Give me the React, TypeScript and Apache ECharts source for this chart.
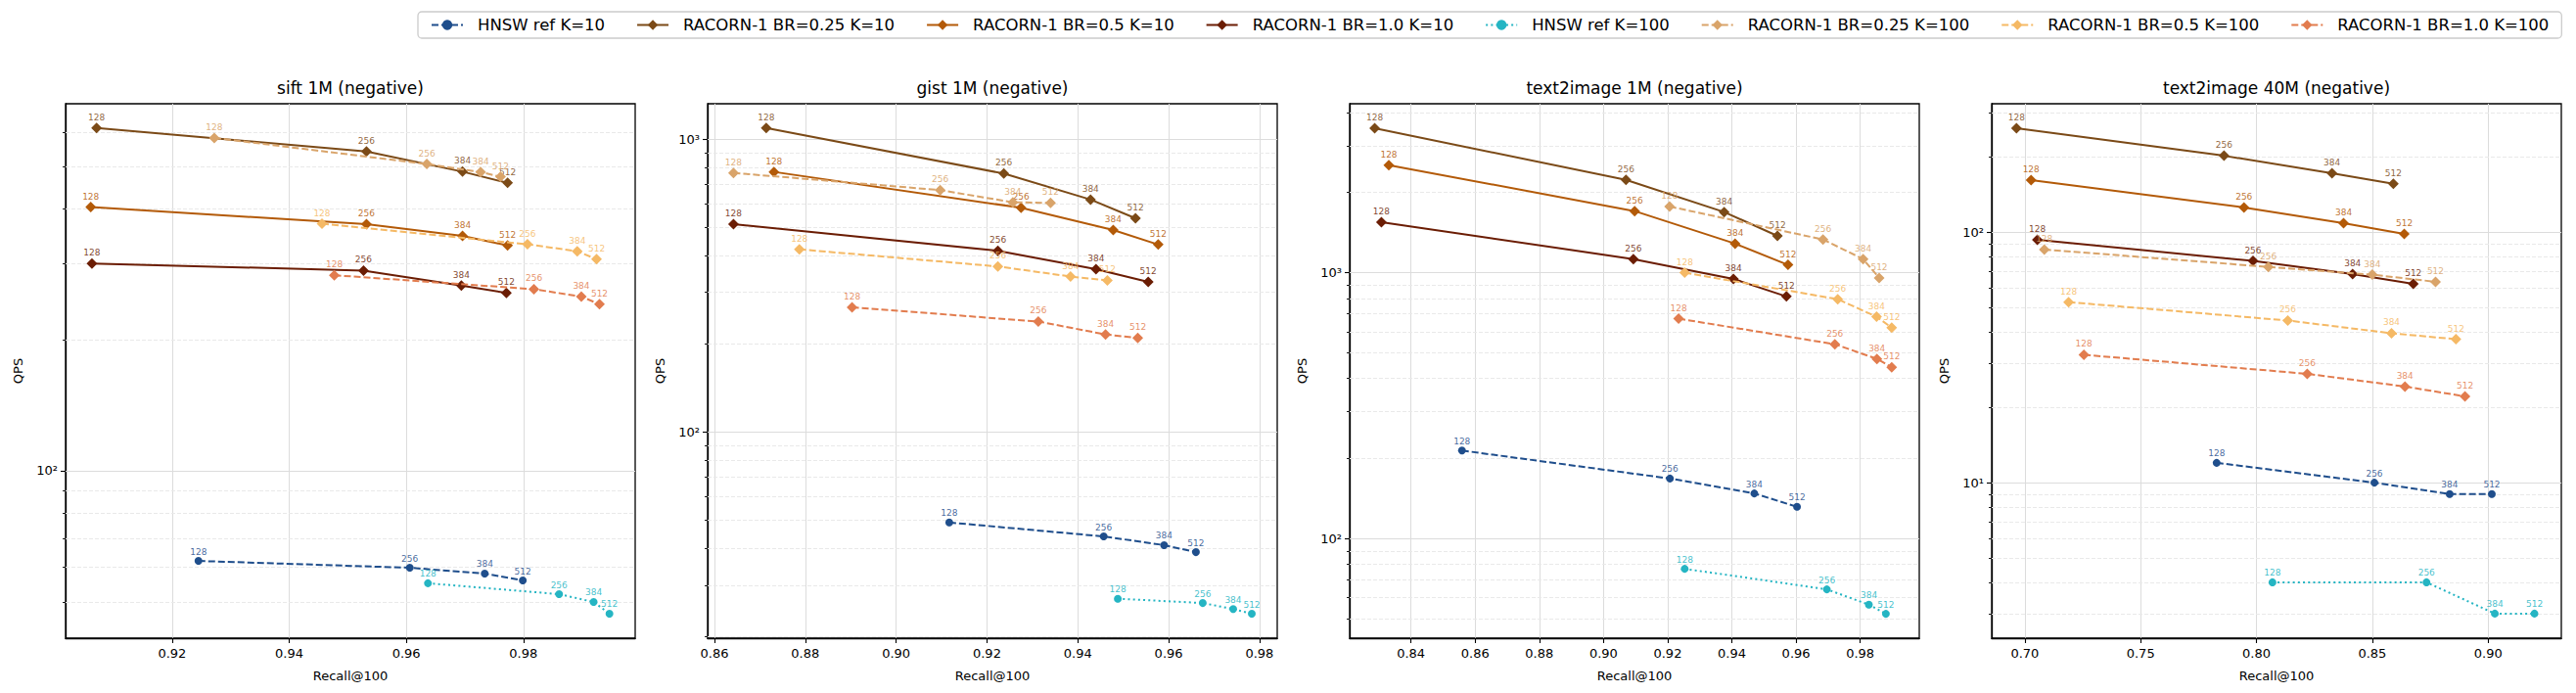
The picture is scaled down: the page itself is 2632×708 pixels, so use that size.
import React, { useEffect, useRef } from "react";
import * as echarts from "echarts";

// ---------------- DATA ----------------
const efLabels = [128, 256, 384, 512];

const seriesNames = [
  "HNSW ref K=10",
  "RACORN-1 BR=0.25 K=10",
  "RACORN-1 BR=0.5 K=10",
  "RACORN-1 BR=1.0 K=10",
  "HNSW ref K=100",
  "RACORN-1 BR=0.25 K=100",
  "RACORN-1 BR=0.5 K=100",
  "RACORN-1 BR=1.0 K=100",
];

const panelTitles = [
  "sift 1M (negative)",
  "gist 1M (negative)",
  "text2image 1M (negative)",
  "text2image 40M (negative)",
];

// rows follow seriesNames order
const siftRecall = [
  [0.9245, 0.9606, 0.9734, 0.9799],
  [0.9071, 0.9532, 0.9696, 0.9773],
  [0.9061, 0.9532, 0.9696, 0.9773],
  [0.9063, 0.9527, 0.9694, 0.9771],
  [0.9637, 0.9861, 0.992, 0.9947],
  [0.9272, 0.9635, 0.9727, 0.9761],
  [0.9456, 0.9807, 0.9892, 0.9925],
  [0.9477, 0.9818, 0.9899, 0.993],
];
const siftQps = [
  [62.0, 59.8, 58.0, 55.9],
  [612, 541, 486, 458],
  [403, 368, 346, 329],
  [299, 288, 266, 256],
  [55.1, 52.0, 49.9, 46.9],
  [581, 506, 485, 473],
  [369, 331, 319, 306],
  [281, 261, 251, 241],
];

const gistRecall = [
  [0.9117, 0.9457, 0.959, 0.966],
  [0.8714, 0.9237, 0.9428, 0.9527],
  [0.8731, 0.9275, 0.9478, 0.9577],
  [0.8642, 0.9224, 0.944, 0.9555],
  [0.9488, 0.9675, 0.9742, 0.9783],
  [0.8642, 0.9097, 0.9257, 0.934],
  [0.8787, 0.9224, 0.9384, 0.9465],
  [0.8903, 0.9313, 0.9461, 0.9532],
];
const gistQps = [
  [49.0, 43.9, 41.0, 38.8],
  [1091, 762, 621, 536],
  [772, 582, 489, 436],
  [512, 415, 359, 325],
  [26.9, 26.0, 24.8, 23.9],
  [766, 669, 608, 605],
  [420, 367, 339, 329],
  [266, 238, 215, 209],
];

const t2i1mRecall = [
  [0.8559, 0.9207, 0.947, 0.9603],
  [0.8287, 0.907, 0.9376, 0.9542],
  [0.8331, 0.9097, 0.941, 0.9575],
  [0.8308, 0.9093, 0.9405, 0.957],
  [0.9253, 0.9696, 0.9827, 0.988],
  [0.9206, 0.9684, 0.9809, 0.9859],
  [0.9253, 0.973, 0.9851, 0.9898],
  [0.9234, 0.9721, 0.9852, 0.9898],
];
const t2i1mQps = [
  [214, 168, 147.6, 131.5],
  [3479, 2227, 1685, 1371],
  [2529, 1699, 1282, 1067],
  [1544, 1122, 945, 812],
  [76.9, 64.4, 56.4, 52.1],
  [1768, 1329, 1122, 953],
  [997, 793, 681, 620],
  [670, 537, 473, 440],
];

const t2i40mRecall = [
  [0.7828, 0.8509, 0.8834, 0.9016],
  [0.6964, 0.786, 0.8326, 0.8591],
  [0.7027, 0.7946, 0.8376, 0.8638],
  [0.7054, 0.7985, 0.8415, 0.8677],
  [0.8069, 0.8734, 0.9029, 0.92],
  [0.7084, 0.8051, 0.85, 0.8773],
  [0.7189, 0.8135, 0.8583, 0.8861],
  [0.7255, 0.8219, 0.8641, 0.89],
];
const t2i40mQps = [
  [12.0, 10.0, 9.0, 9.0],
  [260, 202, 172, 156],
  [161.6, 125.6, 108.7, 98.5],
  [93.3, 76.8, 68.1, 62.2],
  [4.0, 4.0, 3.0, 3.0],
  [85.3, 72.7, 67.7, 63.4],
  [52.6, 44.4, 39.5, 37.4],
  [32.4, 27.2, 24.2, 22.1],
];

const xTickLabels = [
  [0.92, 0.94, 0.96, 0.98],
  [0.86, 0.88, 0.9, 0.92, 0.94, 0.96, 0.98],
  [0.84, 0.86, 0.88, 0.9, 0.92, 0.94, 0.96, 0.98],
  [0.7, 0.75, 0.8, 0.85, 0.9],
];
const xTickSteps = [0.02, 0.02, 0.02, 0.05];

// ---------------- LAYOUT / STYLE ----------------
const FONT = "DejaVu Sans";
const GRID_LEFTS = [67, 723, 1379, 2035];
const GRID_TOP = 106;
const GRID_W = 582;
const GRID_H = 546;
const X_RANGES = [
  [0.9018, 0.9991],
  [0.8585, 0.9839],
  [0.8209, 0.9984],
  [0.6857, 0.9316],
];
const Y_RANGES = [
  [41.2, 696],
  [19.72, 1319.5],
  [42.2, 4301],
  [2.393, 325.8],
];

const DASH = [7, 3];
const SERIES_STYLE: any[] = [
  { color: "#1f4e8c", type: DASH, symbol: "circle", size: 8 },
  { color: "#7b4a17", type: "solid", symbol: "diamond", size: 11 },
  { color: "#b35a08", type: "solid", symbol: "diamond", size: 11 },
  { color: "#6b1d04", type: "solid", symbol: "diamond", size: 11 },
  { color: "#25b5c3", type: [2, 3.2], symbol: "circle", size: 8 },
  { color: "#d9a46a", type: DASH, symbol: "diamond", size: 11 },
  { color: "#f5b965", type: DASH, symbol: "diamond", size: 11 },
  { color: "#e27c4e", type: DASH, symbol: "diamond", size: 11 },
];

const panelRecall = [siftRecall, gistRecall, t2i1mRecall, t2i40mRecall];
const panelQps = [siftQps, gistQps, t2i1mQps, t2i40mQps];

const SUP: Record<string, string> = {
  "-": "\u207B",
  "0": "\u2070",
  "1": "\u00B9",
  "2": "\u00B2",
  "3": "\u00B3",
  "4": "\u2074",
  "5": "\u2075",
};

function logGridValues(min: number, max: number) {
  const out: number[][] = [];
  for (let e = Math.floor(Math.log10(min)); e <= Math.ceil(Math.log10(max)); e++) {
    for (let m = 1; m <= 9; m++) {
      const v = m * Math.pow(10, e);
      if (v >= min && v <= max) out.push([v, m === 1 ? 1 : 0]);
    }
  }
  return out;
}

function buildOption() {
  const grid: any[] = [];
  const xAxis: any[] = [];
  const yAxis: any[] = [];
  const series: any[] = [];
  const title: any[] = [];

  for (let p = 0; p < 4; p++) {
    grid.push({
      left: GRID_LEFTS[p],
      top: GRID_TOP,
      width: GRID_W,
      height: GRID_H,
      show: true,
      borderColor: "#000",
      borderWidth: 1.3,
      containLabel: false,
    });
    title.push({
      text: panelTitles[p],
      left: GRID_LEFTS[p] + GRID_W / 2,
      top: 81,
      textAlign: "center",
      padding: 0,
      textStyle: { fontSize: 17, fontWeight: "normal", color: "#000", fontFamily: FONT },
    });
    const step = xTickSteps[p];
    xAxis.push({
      type: "value",
      gridIndex: p,
      min: X_RANGES[p][0],
      max: X_RANGES[p][1],
      minInterval: step,
      maxInterval: step,
      name: "Recall@100",
      nameLocation: "middle",
      nameGap: 32,
      nameTextStyle: { fontSize: 13, color: "#000", fontFamily: FONT },
      axisLine: { show: true, onZero: false, lineStyle: { color: "#000", width: 1.3 } },
      axisTick: {
        show: true,
        length: 5,
        customValues: xTickLabels[p],
        lineStyle: { color: "#000", width: 1.1 },
      },
      axisLabel: {
        customValues: xTickLabels[p],
        fontSize: 13,
        color: "#000",
        margin: 9,
        fontFamily: FONT,
        showMinLabel: true,
        showMaxLabel: true,
        formatter: (v: number) => {
          const r = v / step;
          if (Math.abs(r - Math.round(r)) > 1e-6) return "";
          return v.toFixed(2);
        },
      },
      splitLine: { show: true, lineStyle: { color: "#dcdcdc", width: 1 } },
    });
    yAxis.push({
      type: "log",
      logBase: 10,
      gridIndex: p,
      min: Y_RANGES[p][0],
      max: Y_RANGES[p][1],
      name: "QPS",
      nameLocation: "middle",
      nameGap: 42,
      nameTextStyle: { fontSize: 13, color: "#000", fontFamily: FONT },
      axisLine: { show: true, onZero: false, lineStyle: { color: "#000", width: 1.3 } },
      axisTick: { show: false },
      splitLine: { show: false },
      axisLabel: {
        fontSize: 13,
        color: "#000",
        margin: 8,
        fontFamily: FONT,
        formatter: (v: number) => {
          const e = Math.log10(v);
          const r = Math.round(e);
          if (Math.abs(e - r) > 1e-6) return "";
          return "10" + String(r).split("").map((c) => SUP[c] || c).join("");
        },
      },
    });

    // y gridlines + ticks (major solid, minor dashed) through the axis scale
    const xmin = X_RANGES[p][0];
    series.push({
      type: "custom",
      xAxisIndex: p,
      yAxisIndex: p,
      silent: true,
      clip: false,
      z: 1,
      data: logGridValues(Y_RANGES[p][0], Y_RANGES[p][1]).map((d) => [xmin, d[0], d[1]]),
      renderItem: (params: any, api: any) => {
        const v = api.value(1);
        const major = api.value(2) === 1;
        const cs = params.coordSys;
        const pt = api.coord([xmin, v]);
        const y = Math.round(pt[1]) + 0.5;
        return {
          type: "group",
          children: [
            {
              type: "line",
              shape: { x1: cs.x, y1: y, x2: cs.x + cs.width, y2: y },
              style: major
                ? { stroke: "#dcdcdc", lineWidth: 1 }
                : { stroke: "#e9e9e9", lineWidth: 1, lineDash: [4, 2] },
            },
            {
              type: "line",
              shape: { x1: cs.x - (major ? 5 : 3), y1: y, x2: cs.x, y2: y },
              style: { stroke: "#000", lineWidth: major ? 1.1 : 0.9 },
            },
          ],
        };
      },
    });

    for (let s = 0; s < 8; s++) {
      const st = SERIES_STYLE[s];
      const rec = panelRecall[p][s];
      const qps = panelQps[p][s];
      series.push({
        type: "line",
        name: seriesNames[s],
        xAxisIndex: p,
        yAxisIndex: p,
        z: 3 + s,
        data: rec.map((r, i) => [r, qps[i], efLabels[i]]),
        symbol: st.symbol,
        symbolSize: st.size,
        showSymbol: true,
        color: st.color,
        itemStyle: { color: st.color },
        lineStyle: { color: st.color, width: 2, type: st.type },
        label: {
          show: true,
          position: "top",
          distance: 1,
          fontSize: 9,
          fontFamily: FONT,
          color: st.color,
          opacity: 0.85,
          formatter: (prm: any) => String(prm.value[2]),
        },
        emphasis: { disabled: true },
      });
    }
  }

  return {
    animation: false,
    backgroundColor: "#ffffff",
    textStyle: { fontFamily: FONT },
    title,
    legend: {
      data: seriesNames,
      left: 427,
      top: 12,
      orient: "horizontal",
      itemWidth: 32,
      itemHeight: 13,
      itemGap: 32,
      padding: [5, 13, 5, 13],
      borderColor: "#cccccc",
      borderWidth: 1.3,
      borderRadius: 4,
      textStyle: { fontSize: 16.5, color: "#000", fontFamily: FONT, padding: [0, 0, 0, 10] },
    },
    grid,
    xAxis,
    yAxis,
    series,
  };
}

export default function App() {
  const ref = useRef<HTMLDivElement>(null);
  useEffect(() => {
    if (!ref.current) return;
    const chart = echarts.init(ref.current, undefined, { renderer: "svg" });
    chart.setOption(buildOption() as any);
    return () => chart.dispose();
  }, []);
  return (
    <div
      ref={ref}
      style={{ position: "fixed", left: 0, top: 0, width: 2632, height: 708, background: "#fff" }}
    />
  );
}
